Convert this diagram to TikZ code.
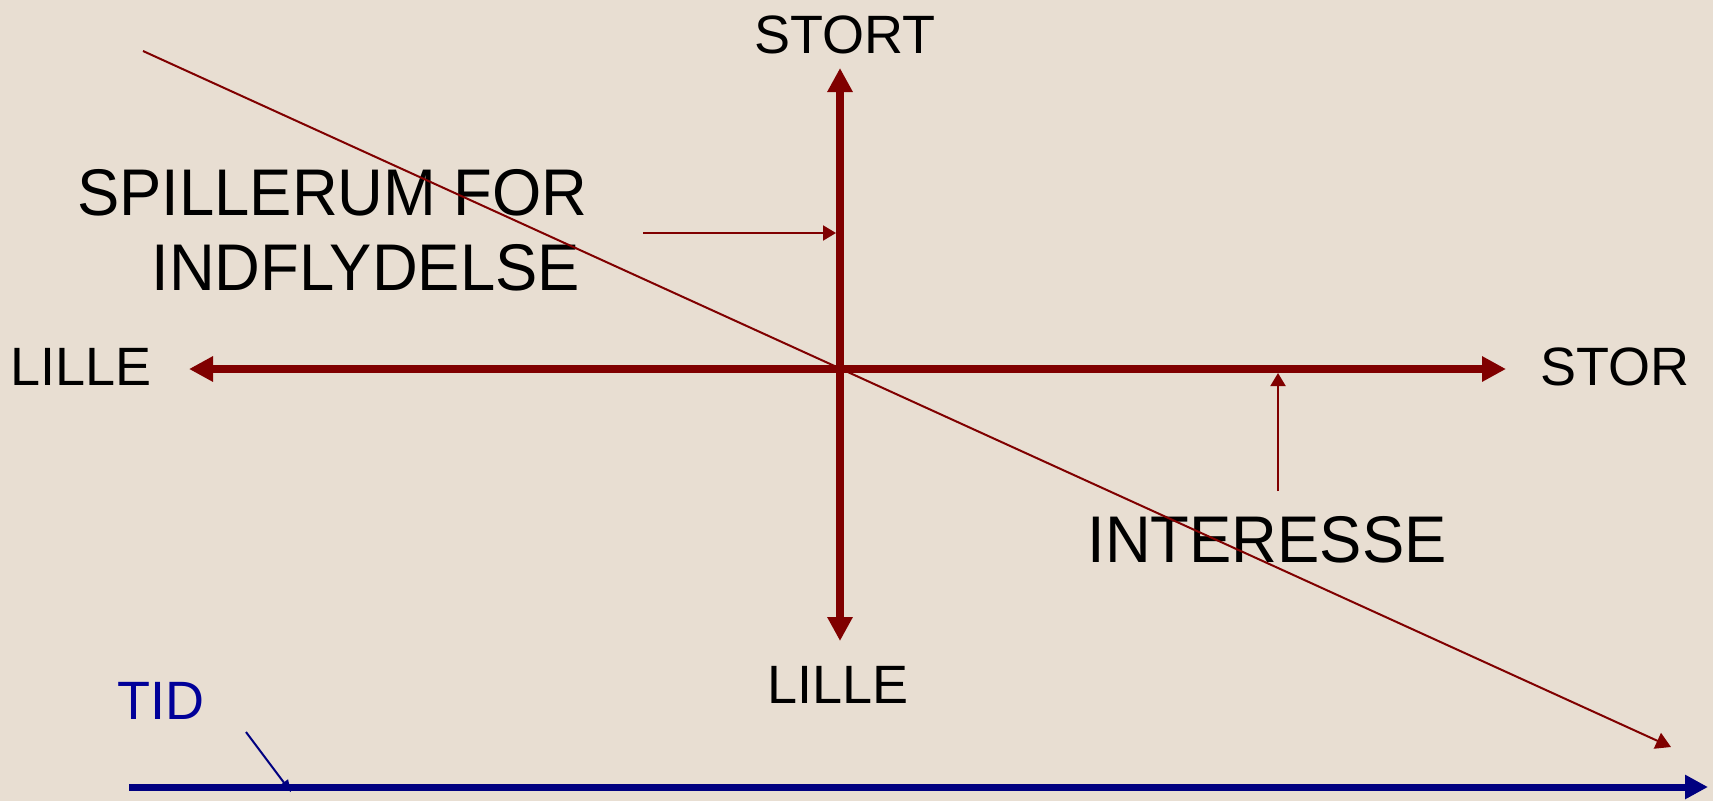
\documentclass[tikz,border=0pt]{standalone}
\usepackage{fontspec}
\setmainfont{Liberation Sans}
\newfontfamily\narrowsans[FakeStretch=0.96]{Liberation Sans}
\usepackage{xcolor}
\usetikzlibrary{arrows.meta}
\definecolor{bgbeige}{RGB}{232,222,210}
\definecolor{axisred}{RGB}{128,0,0}
\definecolor{timeblue}{RGB}{0,0,128}
\definecolor{tidblue}{RGB}{0,0,153}

\begin{document}
\begin{tikzpicture}[x=1pt,y=-1pt,
                    axis line/.style={draw=axisred,line width=8pt,{Triangle[length=24pt,width=24pt]}-{Triangle[length=24pt,width=24pt]}},
                    thin arrow/.style={draw=axisred,line width=2pt,-{Triangle[length=13pt,width=15pt]}},
                    axis label/.style={font=\fontsize{54}{60}\selectfont,inner sep=0pt,anchor=base},
                    big label/.style={font=\narrowsans\fontsize{66}{72}\selectfont,inner sep=0pt,anchor=base}]

  \fill[bgbeige] (0,0) rectangle (1713,801);
  \useasboundingbox (0,0) rectangle (1713,801);

  % axis ends
  \coordinate (ytop) at (840,68);
  \coordinate (ybot) at (840,641);
  \coordinate (xleft) at (189,369);
  \coordinate (xright) at (1506,369);

  \node[axis label] (stort) at (845,53) {STORT};
  \node[axis label] (lille1) at (81,385) {LILLE};
  \node[axis label] (stor) at (1615,385) {STOR};
  \node[axis label] (lille2) at (838,703) {LILLE};
  \node[big label,anchor=base east] (spill) at (588,215) {SPILLERUM FOR};
  \node[big label,anchor=base east] (indfl) at (580,290) {INDFLYDELSE};
  \node[big label] (interesse) at (1267,562) {INTERESSE};
  \node[axis label,text=tidblue] (tid) at (161,719) {TID};

  \draw[axis line] (xleft) -- (xright);
  \draw[axis line] (ybot) -- (ytop);

  % pointers
  \coordinate (spillstart) at (643,233);
  \coordinate (spilltip) at (836,233);
  \coordinate (intstart) at (1278,491);
  \coordinate (inttip) at (1278,373);
  \draw[thin arrow] (spillstart) -- (spilltip);
  \draw[thin arrow] (intstart) -- (inttip);

  % time axis
  \coordinate (tidstart) at (129,787);
  \coordinate (tidend) at (1708,787);
  \coordinate (tidfrom) at (246,732);
  \coordinate (tidto) at (291,792);
  \draw[draw=timeblue,line width=7pt,-{Triangle[length=23pt,width=23pt]}] (tidstart) -- (tidend);
  \draw[draw=timeblue,line width=2pt,-{Triangle[length=12pt,width=10pt]}] (tidfrom) -- (tidto);

  % diagonal
  \coordinate (diagstart) at (143,51);
  \coordinate (diagend) at (1671,747);
  \draw[thin arrow,-{Triangle[length=15pt,width=17pt]}] (diagstart) -- (diagend);
\end{tikzpicture}
\end{document}
